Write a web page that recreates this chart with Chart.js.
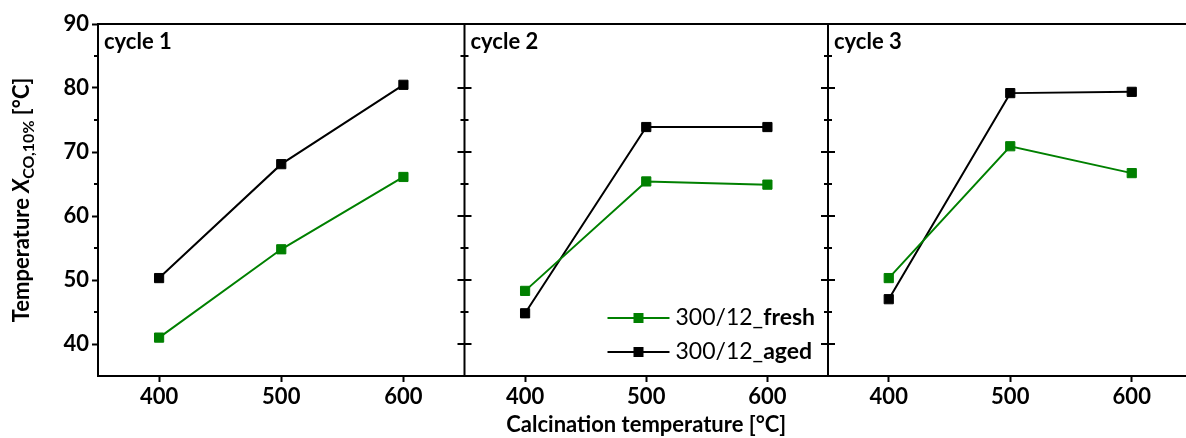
<!DOCTYPE html>
<html>
<head>
<meta charset="utf-8">
<script src="https://cdn.jsdelivr.net/npm/chart.js@4.4.0/dist/chart.umd.min.js"></script>
<style>
  html, body { margin: 0; padding: 0; background: #fff; overflow: hidden; }
  #wrap { position: relative; width: 1200px; height: 438px; }
</style>
</head>
<body>
<div id="wrap"><canvas id="cycleChart" width="1200" height="438"></canvas></div>
<script>
// x values and ticks
const calcTemps = [400, 500, 600];
const xTicks = [400, 500, 600];
const yTicks = [40, 50, 60, 70, 80, 90];
const yMinorTicks = [45, 55, 65, 75, 85];
const cycleLabels = ['cycle 1', 'cycle 2', 'cycle 3'];
const legendPrefix = '300/12_';
const legendNames = ['fresh', 'aged'];

// T(X_CO,10%) per cycle
const fresh1 = [41.0, 54.8, 66.1];
const aged1 = [50.3, 68.1, 80.5];
const fresh2 = [48.3, 65.4, 64.9];
const aged2 = [44.8, 73.9, 73.9];
const fresh3 = [50.3, 70.9, 66.7];
const aged3 = [47.0, 79.2, 79.4];

const green = '#008000';
const black = '#000000';
const font = 'Lato';

Chart.defaults.font.family = font;
Chart.defaults.color = '#000';

function points(vals) {
    return calcTemps.map((t, i) => ({ x: t, y: vals[i] }));
}

function series(vals, color, axisId) {
    return {
        data: points(vals),
        xAxisID: axisId,
        borderColor: color,
        backgroundColor: color,
        borderWidth: 2,
        pointStyle: 'rect',
        pointRadius: 6.5,
        pointBorderWidth: 1,
        pointBackgroundColor: color,
        pointBorderColor: color,
        tension: 0
    };
}

function xScale(withTitle, weight) {
    return {
        axis: 'x',
        type: 'linear',
        position: 'bottom',
        stack: 'panels',
        stackWeight: weight,
        min: 350,
        max: 650,
        afterBuildTicks: (s) => { s.ticks = xTicks.map(v => ({ value: v })); },
        afterFit: (s) => { s.height = 62; },
        border: { display: true, color: black, width: 2 },
        grid: { drawOnChartArea: false, color: black, tickLength: 6, tickWidth: 2 },
        ticks: { font: { size: 22, weight: 'bold' }, color: black, padding: 2, maxRotation: 0 },
        title: {
            display: withTitle,
            text: 'Calcination temperature [°C]',
            font: { size: 22, weight: 'bold' },
            color: black,
            padding: 0
        }
    };
}

// frame: top line, panel dividers with crossing ticks, minor ticks, cycle labels
const framePlugin = {
    id: 'frame',
    afterDraw(chart) {
        const { ctx, chartArea: a, scales } = chart;
        const y = scales.y;
        ctx.save();
        ctx.strokeStyle = black;
        ctx.lineWidth = 2;

        ctx.beginPath();
        ctx.moveTo(a.left - 1, a.top);
        ctx.lineTo(chart.width, a.top);
        ctx.stroke();

        // minor ticks on the left axis
        ctx.beginPath();
        yMinorTicks.forEach(v => {
            const py = y.getPixelForValue(v);
            ctx.moveTo(a.left - 4, py);
            ctx.lineTo(a.left, py);
        });
        ctx.stroke();

        [scales.x2.left, scales.x3.left].forEach(x => {
            ctx.beginPath();
            ctx.moveTo(x, a.top);
            ctx.lineTo(x, a.bottom);
            yTicks.forEach(v => {
                const py = y.getPixelForValue(v);
                ctx.moveTo(x - 7, py);
                ctx.lineTo(x + 7, py);
            });
            yMinorTicks.forEach(v => {
                const py = y.getPixelForValue(v);
                ctx.moveTo(x - 4, py);
                ctx.lineTo(x + 4, py);
            });
            ctx.stroke();
        });

        ctx.fillStyle = black;
        ctx.font = 'bold 22px ' + font;
        ctx.textBaseline = 'alphabetic';
        ctx.textAlign = 'left';
        ['x1', 'x2', 'x3'].forEach((id, i) => {
            ctx.fillText(cycleLabels[i], scales[id].left + 6, a.top + 25);
        });

        // y title with subscript
        const parts = [
            { t: 'Temperature ', f: 'bold 22px ' + font, dy: 0 },
            { t: 'X', f: 'italic bold 22px ' + font, dy: 0 },
            { t: 'CO,10%', f: 'bold 16px ' + font, dy: 5 },
            { t: ' [°C]', f: 'bold 22px ' + font, dy: 0 }
        ];
        let total = 0;
        parts.forEach(p => { ctx.font = p.f; p.w = ctx.measureText(p.t).width; total += p.w; });
        ctx.translate(29, (a.top + a.bottom) / 2);
        ctx.rotate(-Math.PI / 2);
        let cx = -total / 2;
        parts.forEach(p => {
            ctx.font = p.f;
            ctx.fillText(p.t, cx, p.dy);
            cx += p.w;
        });
        ctx.restore();
    }
};

// legend inside the cycle 2 panel, suffix in bold
const legendPlugin = {
    id: 'panelLegend',
    afterDatasetsDraw(chart) {
        const { ctx, chartArea: a, scales } = chart;
        const x0 = scales.x2.left + 143;
        const rows = [a.bottom - 58, a.bottom - 24];
        const colors = [green, black];
        ctx.save();
        ctx.textBaseline = 'middle';
        ctx.textAlign = 'left';
        rows.forEach((ry, i) => {
            ctx.strokeStyle = colors[i];
            ctx.fillStyle = colors[i];
            ctx.lineWidth = 2;
            ctx.beginPath();
            ctx.moveTo(x0, ry);
            ctx.lineTo(x0 + 62, ry);
            ctx.stroke();
            ctx.fillRect(x0 + 26, ry - 5, 10, 10);
            ctx.fillStyle = black;
            ctx.font = '23px ' + font;
            ctx.fillText(legendPrefix, x0 + 68, ry);
            const w = ctx.measureText(legendPrefix).width;
            ctx.font = 'bold 23px ' + font;
            ctx.fillText(legendNames[i], x0 + 68 + w, ry);
        });
        ctx.restore();
    }
};

new Chart(document.getElementById('cycleChart'), {
    type: 'line',
    data: {
        datasets: [
            series(fresh1, green, 'x1'),
            series(aged1, black, 'x1'),
            series(fresh2, green, 'x2'),
            series(aged2, black, 'x2'),
            series(fresh3, green, 'x3'),
            series(aged3, black, 'x3')
        ]
    },
    options: {
        responsive: false,
        animation: false,
        layout: { padding: { top: 24, right: 6, left: 0, bottom: 0 } },
        plugins: {
            legend: { display: false },
            tooltip: { enabled: false }
        },
        scales: {
            x1: xScale(false, 367),
            x2: xScale(true, 364),
            x3: xScale(false, 365),
            y: {
                type: 'linear',
                position: 'left',
                min: 35,
                max: 90,
                afterBuildTicks: (s) => { s.ticks = yTicks.map(v => ({ value: v })); },
                afterFit: (s) => { s.width = 98; },
                border: { display: true, color: black, width: 2 },
                grid: { drawOnChartArea: false, color: black, tickLength: 6, tickWidth: 2 },
                ticks: { font: { size: 22, weight: 'bold' }, color: black, padding: 3 }
            }
        }
    },
    plugins: [framePlugin, legendPlugin]
});
</script>
</body>
</html>
